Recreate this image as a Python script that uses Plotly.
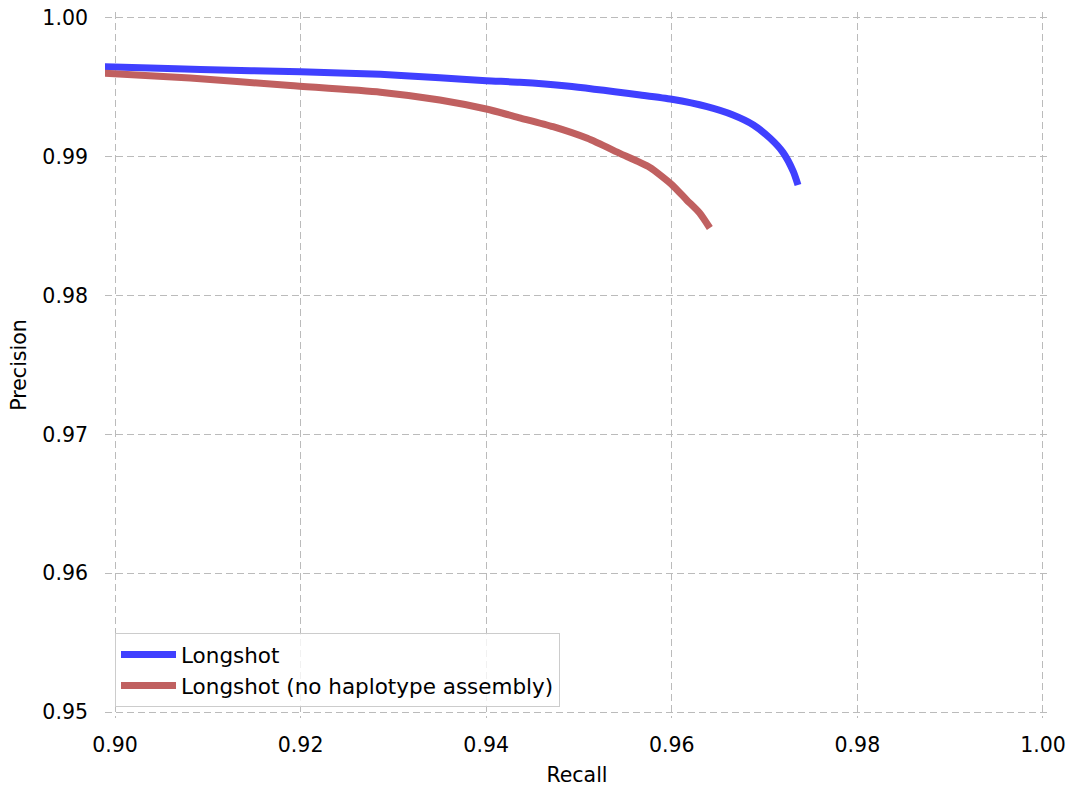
import plotly.graph_objects as go

# Longshot (with haplotype assembly)
recall_ls = [0.8980, 0.9038, 0.9092, 0.9200, 0.9286, 0.9350, 0.9400, 0.9436, 0.9487,
             0.9566, 0.9600, 0.9638, 0.9666, 0.9688, 0.9706, 0.9720, 0.9731, 0.9736]
precision_ls = [0.99650, 0.99640, 0.99628, 0.99613, 0.99594, 0.99570, 0.99548, 0.99537, 0.99510,
                0.99445, 0.99414, 0.99361, 0.99301, 0.99229, 0.99133, 0.99030, 0.98893,
                0.98797]

# Longshot (no haplotype assembly)
recall_nh = [0.8980, 0.9081, 0.9189, 0.9286, 0.9350, 0.9400, 0.9436, 0.9472, 0.9509,
             0.9544, 0.9576, 0.9600, 0.9616, 0.9630, 0.9641]
precision_nh = [0.99606, 0.99568, 0.99513, 0.99465, 0.99409, 0.99344, 0.99281, 0.99217, 0.99133,
                0.99025, 0.98925, 0.98800, 0.98689, 0.98595, 0.98487]

x_ticks = [0.90, 0.92, 0.94, 0.96, 0.98, 1.00]
y_ticks = [0.95, 0.96, 0.97, 0.98, 0.99, 1.00]

font_family = "DejaVu Sans"

fig = go.Figure()
fig.add_trace(go.Scatter(x=recall_ls, y=precision_ls, mode="lines", name="Longshot",
                         line=dict(color="#4040FF", width=7, shape="spline", smoothing=0.6)))
fig.add_trace(go.Scatter(x=recall_nh, y=precision_nh, mode="lines",
                         name="Longshot (no haplotype assembly)",
                         line=dict(color="#C06060", width=7, shape="spline", smoothing=0.6)))

grid = dict(showgrid=True, gridcolor="#BBBBBB", gridwidth=1.2, griddash="7px,4px",
            zeroline=False, showline=False, ticks="", automargin=False,
            tickfont=dict(family=font_family, size=20.5, color="black"))

fig.update_layout(
    width=1072, height=790,
    margin=dict(l=105, r=23, t=12, b=72),
    paper_bgcolor="white", plot_bgcolor="white",
    font=dict(family=font_family, size=20.5, color="black"),
    xaxis=dict(range=[0.89892, 1.00065], tickvals=x_ticks, ticktext=[f"{v:.2f}" for v in x_ticks],
               title=dict(text="Recall", font=dict(size=20.5), standoff=12),
               ticklabelstandoff=12, **grid),
    yaxis=dict(range=[0.94957, 1.00043], tickvals=y_ticks, ticktext=[f"{v:.2f}" for v in y_ticks],
               title=dict(text="Precision", font=dict(size=20.5), standoff=10),
               ticklabelstandoff=16, **grid),
    legend=dict(x=0.0106, y=0.0156, xanchor="left", yanchor="bottom",
                bgcolor="rgba(255,255,255,0.8)", bordercolor="#CCCCCC", borderwidth=1,
                font=dict(family=font_family, size=21.5), itemwidth=55,
                tracegroupgap=0),
    showlegend=True,
)

fig.write_html("out.html")
